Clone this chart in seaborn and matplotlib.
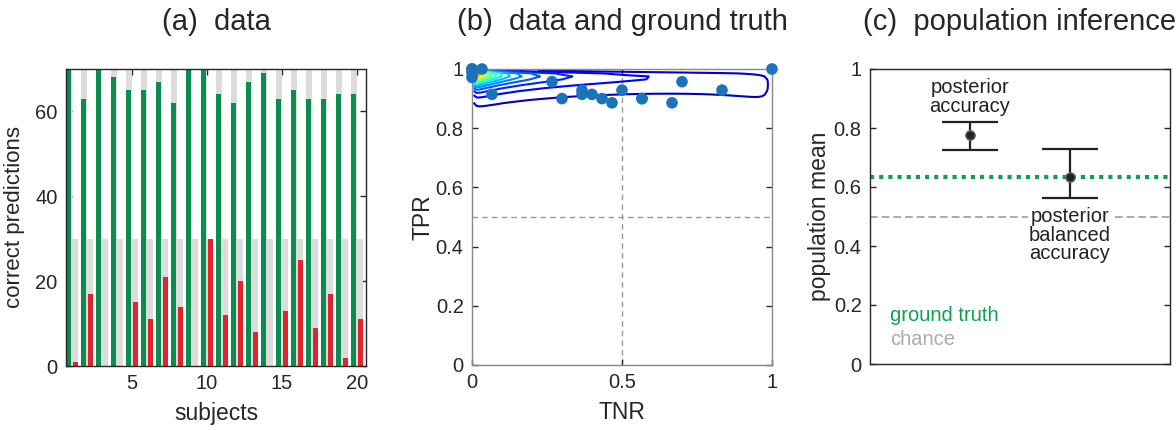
import numpy as np
import pandas as pd
import matplotlib
matplotlib.use("Agg")
import matplotlib.pyplot as plt
import seaborn as sns

# (a) correct predictions per subject: 70 positive and 30 negative trials each
subjects = list(range(1, 21))
n_pos = 70
n_neg = 30
correct_pos = [70, 63, 70, 68, 65, 65, 67, 62, 70, 70, 64, 62, 67, 69, 63, 65, 63, 63, 64, 64]
correct_neg = [1, 17, 0, 0, 15, 11, 21, 14, 0, 30, 12, 20, 8, 0, 13, 25, 9, 17, 2, 11]

# (b) ground-truth population: bivariate normal in logit(TNR), logit(TPR)
gt_tnr_logit_mean = -0.8
gt_tnr_logit_sd = 2.0
gt_tpr_logit_mean = 2.9
gt_tpr_logit_sd = 0.95
gt_logit_corr = -0.3
grid_step = 0.01
n_levels = 20

# (c) population inference
inf_labels = ["posterior\naccuracy", "posterior\nbalanced\naccuracy"]
inf_mean = [0.776, 0.635]
inf_low = [0.725, 0.562]
inf_high = [0.822, 0.728]
ground_truth_ba = 0.634
chance_level = 0.5

GREEN = "#0b8c50"
RED = "#e0262a"
GRAY = "#dcdcdc"
BLUE = "#1b74bb"

sns.set_theme(style="ticks")
plt.rcParams["font.family"] = ["Liberation Sans", "DejaVu Sans"]
plt.rcParams["xtick.direction"] = "in"
plt.rcParams["ytick.direction"] = "in"

fig = plt.figure(figsize=(11.76, 4.30), dpi=100)
W, H = 1176, 430
def place(left, right, top, bottom):
    return fig.add_axes([left / W, 1 - bottom / H, (right - left) / W, (bottom - top) / H])

ax_a = place(66, 366, 69, 366)
ax_b = place(472, 772, 69, 365)
ax_c = place(870, 1170, 69, 364)

TICK_FS = 14.5
LABEL_FS = 16.5
TITLE_FS = 21

# ---------- (a) data ----------
df = pd.DataFrame({
    "subject": subjects * 2,
    "cls": ["pos"] * len(subjects) + ["neg"] * len(subjects),
    "total": [n_pos] * len(subjects) + [n_neg] * len(subjects),
    "correct": correct_pos + correct_neg,
})
sns.barplot(data=df, x="subject", y="total", hue="cls", hue_order=["pos", "neg"],
            palette=[GRAY, GRAY], saturation=1, width=0.84, gap=0, errorbar=None,
            linewidth=0, legend=False, ax=ax_a)
sns.barplot(data=df, x="subject", y="correct", hue="cls", hue_order=["pos", "neg"],
            palette=[GREEN, RED], saturation=1, width=0.84, gap=0.22, errorbar=None,
            linewidth=0, legend=False, ax=ax_a)
ax_a.set_xlim(-0.4, 19.6)
ax_a.set_ylim(0, 70)
ax_a.set_xticks([4, 9, 14, 19], ["5", "10", "15", "20"])
ax_a.set_yticks([0, 20, 40, 60])
ax_a.set_xlabel("subjects", fontsize=LABEL_FS)
ax_a.set_ylabel("correct predictions", fontsize=16)
ax_a.yaxis.set_label_coords(-0.135, 0.5)
ax_a.set_title("(a)  data", fontsize=TITLE_FS, pad=28)

# ---------- (b) data and ground truth ----------
grid = np.arange(grid_step / 2, 1, grid_step)
X, Y = np.meshgrid(grid, grid)
zu = (np.log(X / (1 - X)) - gt_tnr_logit_mean) / gt_tnr_logit_sd
zv = (np.log(Y / (1 - Y)) - gt_tpr_logit_mean) / gt_tpr_logit_sd
r = gt_logit_corr
dens = np.exp(-(zu ** 2 - 2 * r * zu * zv + zv ** 2) / (2 * (1 - r ** 2)))
dens = dens / (2 * np.pi * gt_tnr_logit_sd * gt_tpr_logit_sd * np.sqrt(1 - r ** 2)
               * X * (1 - X) * Y * (1 - Y))
levels = np.linspace(0, dens.max(), n_levels + 1)[1:]
ax_b.contour(X, Y, dens, levels=levels, cmap="jet", vmin=-levels[0] * 0.3,
             linewidths=1.5)

tnr = [k / n_neg for k in correct_neg]
tpr = [k / n_pos for k in correct_pos]
sns.scatterplot(x=tnr, y=tpr, color=BLUE, s=70, edgecolor="none", clip_on=False,
                zorder=5, ax=ax_b)
ax_b.axvline(0.5, color="#999999", lw=1, ls=(0, (4, 3)), zorder=0)
ax_b.axhline(0.5, color="#999999", lw=1, ls=(0, (4, 3)), zorder=0)
ax_b.set_xlim(0, 1)
ax_b.set_ylim(0, 1)
ax_b.set_xticks([0, 0.5, 1], ["0", "0.5", "1"])
ax_b.set_yticks([0, 0.2, 0.4, 0.6, 0.8, 1], ["0", "0.2", "0.4", "0.6", "0.8", "1"])
ax_b.set_xlabel("TNR", fontsize=LABEL_FS)
ax_b.set_ylabel("TPR", fontsize=LABEL_FS)
ax_b.yaxis.set_label_coords(-0.125, 0.5)
ax_b.set_title("(b)  data and ground truth", fontsize=TITLE_FS, pad=28)
for sp in ax_b.spines.values():
    sp.set_color("#888888")

# ---------- (c) population inference ----------
xpos = [1, 2]
ax_c.axhline(ground_truth_ba, color="#0fa050", lw=3, ls=(0, (1, 1.2)), zorder=1)
ax_c.axhline(chance_level, color="#aaaaaa", lw=1.4, ls=(0, (4, 2)), zorder=1)
ax_c.errorbar(xpos, inf_mean,
              yerr=[np.subtract(inf_mean, inf_low), np.subtract(inf_high, inf_mean)],
              fmt="none", ecolor="#222222", elinewidth=1.6, capsize=20, capthick=1.6,
              zorder=3)
sns.scatterplot(x=xpos, y=inf_mean, color="#222222", s=45, edgecolor="#666666",
                linewidth=1, zorder=4, ax=ax_c)
ax_c.text(xpos[0], 0.905, inf_labels[0], ha="center", va="center", fontsize=14.5,
          linespacing=0.95, color="#222222")
ax_c.text(xpos[1], 0.437, inf_labels[1], ha="center", va="center", fontsize=14.5,
          linespacing=0.95, color="#222222",
          bbox=dict(facecolor="white", edgecolor="none", pad=1))
ax_c.text(0.2, 0.166, "ground truth", ha="left", va="center", fontsize=14.5, color="#0fa050")
ax_c.text(0.2, 0.082, "chance", ha="left", va="center", fontsize=14.5, color="#aaaaaa")
ax_c.set_xlim(0, 3)
ax_c.set_ylim(0, 1)
ax_c.set_xticks([])
ax_c.set_yticks([0, 0.2, 0.4, 0.6, 0.8, 1], ["0", "0.2", "0.4", "0.6", "0.8", "1"])
ax_c.set_ylabel("population mean", fontsize=LABEL_FS)
ax_c.yaxis.set_label_coords(-0.13, 0.5)
ax_c.set_title("(c)  population inference", fontsize=TITLE_FS, pad=28)

for ax in (ax_a, ax_b, ax_c):
    ax.tick_params(labelsize=TICK_FS, top=True, right=True, length=4, width=1,
                   direction="in", pad=6)
    for sp in ax.spines.values():
        sp.set_visible(True)
        sp.set_linewidth(1)
ax_c.tick_params(axis="x", top=False, bottom=False)
ax_a.xaxis.set_label_coords(0.5, -0.12)
ax_b.xaxis.set_label_coords(0.5, -0.12)

fig.savefig("out.png", dpi=100)
